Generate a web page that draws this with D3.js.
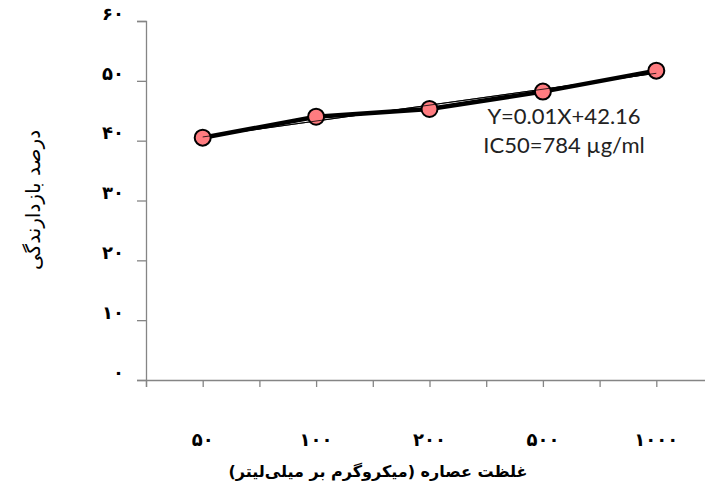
<!DOCTYPE html>
<html><head><meta charset="utf-8">
<script src="https://cdn.jsdelivr.net/npm/d3@7"></script>
<style>body{margin:0;background:#fff}</style>
</head><body>
<svg id="c" width="705" height="493"></svg>
<script>
const categories = ["۵۰","۱۰۰","۲۰۰","۵۰۰","۱۰۰۰"];
const values = [40.5, 44.0, 45.3, 48.2, 51.7];
const yTicks = [0,10,20,30,40,50,60];
const yTickLabels = ["۰","۱۰","۲۰","۳۰","۴۰","۵۰","۶۰"];
const xTitle = "غلظت عصاره (میکروگرم بر میلی‌لیتر)";
const yTitle = "درصد بازدارندگی";
const notes = ["Y=0.01X+42.16","IC50=784 µg/ml"];

const svg = d3.select("#c");
const x = d3.scaleLinear().domain([0,5]).range([146,713]);
const y = d3.scaleLinear().domain([0,60]).range([380,21]);
const axisColor = "#858585";

// y axis
const ya = svg.append("g").attr("transform","translate(146,0)")
  .call(d3.axisLeft(y).tickValues(yTicks).tickSize(9).tickFormat((d,i)=>yTickLabels[i]));
ya.select(".domain").attr("stroke",axisColor).attr("stroke-width",1.3);
ya.selectAll(".tick line").attr("stroke",axisColor).attr("stroke-width",1.3);
ya.selectAll(".tick text").attr("x",-22).attr("dy","-0.1em").attr("font-family","DejaVu Sans").attr("font-weight","bold").attr("font-size",18).attr("fill","#000");

// x axis
const xTickVals = d3.range(0,11).map(i=>i*0.5);
const xa = svg.append("g").attr("transform","translate(0,380)")
  .call(d3.axisBottom(x).tickValues(xTickVals).tickSize(7).tickFormat(""));
xa.select(".domain").attr("stroke",axisColor).attr("stroke-width",1.3);
xa.selectAll(".tick line").attr("stroke",axisColor).attr("stroke-width",1.3);

// category labels
svg.append("g").selectAll("text").data(categories).join("text")
  .attr("x",(d,i)=>x(i+0.5)).attr("y",446).attr("text-anchor","middle")
  .attr("font-family","DejaVu Sans").attr("font-weight","bold").attr("font-size",18)
  .text(d=>d);

// titles
svg.append("text").attr("x",378).attr("y",477).attr("text-anchor","middle")
  .attr("direction","rtl")
  .attr("font-family","DejaVu Sans").attr("font-weight","bold").attr("font-size",16).text(xTitle);
svg.append("text").attr("transform","translate(40,200) rotate(-90)").attr("text-anchor","middle")
  .attr("direction","rtl")
  .attr("font-family","DejaVu Sans").attr("font-size",20).text(yTitle);

// data line
const pts = values.map((v,i)=>[i+0.5,v]);
svg.append("path").datum(pts)
  .attr("d", d3.line().x(d=>x(d[0])).y(d=>y(d[1])))
  .attr("fill","none").attr("stroke","#000").attr("stroke-width",4.5).attr("stroke-linejoin","round");

// linear trendline
const mx = d3.mean(pts,d=>d[0]), my = d3.mean(pts,d=>d[1]);
const slope = d3.sum(pts,d=>(d[0]-mx)*(d[1]-my))/d3.sum(pts,d=>(d[0]-mx)**2);
const icpt = my - slope*mx;
const x0 = pts[0][0], x1 = pts[pts.length-1][0];
svg.append("line").attr("x1",x(x0)).attr("x2",x(x1))
  .attr("y1",y(icpt+slope*x0)).attr("y2",y(icpt+slope*x1))
  .attr("stroke","#000").attr("stroke-width",1);

// markers
svg.append("g").selectAll("circle").data(pts).join("circle")
  .attr("cx",d=>x(d[0])).attr("cy",d=>y(d[1])).attr("r",8)
  .attr("fill","#ff7c80").attr("stroke","#000").attr("stroke-width",2);
svg.append("line").attr("x1",x(x0)).attr("x2",x(x1))
  .attr("y1",y(icpt+slope*x0)).attr("y2",y(icpt+slope*x1))
  .attr("stroke","#000").attr("stroke-width",0.8);

// annotation
svg.append("g").selectAll("text").data(notes).join("text")
  .attr("x",564).attr("y",(d,i)=>124+i*29).attr("text-anchor","middle")
  .attr("font-family","Lato").attr("font-size",22).attr("fill","#222")
  .text(d=>d);
</script>
</body></html>
